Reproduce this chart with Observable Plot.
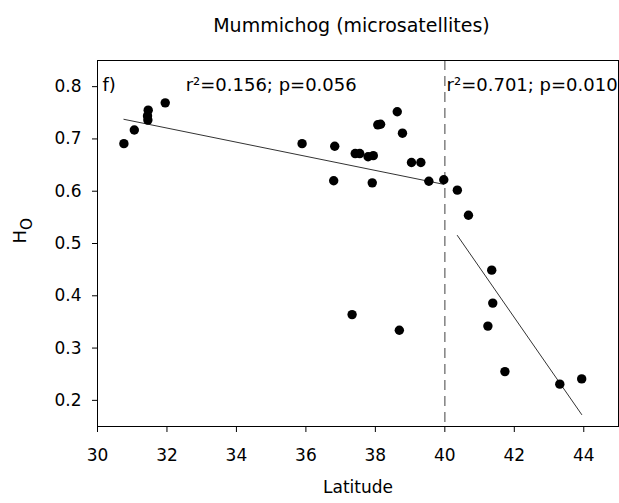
<!DOCTYPE html>
<html>
<head>
<meta charset="utf-8">
<script src="https://cdn.jsdelivr.net/npm/d3@7"></script>
<script src="https://cdn.jsdelivr.net/npm/@observablehq/plot@0.6"></script>
<style>
  html, body { margin: 0; padding: 0; background: #fff; }
  #title {
    box-sizing: border-box;
    width: 619px; height: 45px;
    padding: 14px 1px 0 85px;
    font-family: "DejaVu Sans", sans-serif;
    font-size: 19px; line-height: 22px;
    text-align: center; color: #000;
  }
</style>
</head>
<body>
<div id="title">Mummichog (microsatellites)</div>
<div id="chart"></div>
<script>
const latitude = [30.76, 31.06, 31.44, 31.45, 31.46, 31.95, 35.89, 36.80, 36.83, 37.33, 37.42, 37.55,
                  37.79, 37.91, 37.94, 38.07, 38.15, 38.63, 38.69, 38.78, 39.04, 39.31, 39.54, 39.97,
                  40.36, 40.68, 41.24, 41.35, 41.38, 41.73, 43.31, 43.94];
const ho       = [0.691, 0.717, 0.744, 0.736, 0.755, 0.769, 0.691, 0.620, 0.686, 0.364, 0.672, 0.672,
                  0.666, 0.616, 0.668, 0.727, 0.728, 0.752, 0.334, 0.711, 0.655, 0.655, 0.619, 0.622,
                  0.602, 0.554, 0.342, 0.449, 0.386, 0.255, 0.231, 0.241];
const breakLatitude = 40;
const xTicks = [30, 32, 34, 36, 38, 40, 42, 44];
const yTicks = [0.2, 0.3, 0.4, 0.5, 0.6, 0.7, 0.8];
const panelLabel = "f)";
const statsSouth = "r²=0.156; p=0.056";
const statsNorth = "r²=0.701; p=0.010";
const statsSouthLat = 35.0;
const statsNorthLat = 40.05;

const data = latitude.map((lat, i) => ({lat, ho: ho[i]}));

const plot = Plot.plot({
  width: 619,
  height: 458,
  marginTop: 15,
  marginLeft: 97,
  marginRight: 1,
  marginBottom: 77,
  style: {fontFamily: "DejaVu Sans, sans-serif", fontSize: "17px", color: "#000", background: "#fff"},
  x: {domain: [30, 45]},
  y: {domain: [0.15, 0.85]},
  marks: [
    Plot.ruleX([breakLatitude], {stroke: "#808080", strokeWidth: 1.5, strokeDasharray: "10,6"}),
    Plot.linearRegressionY(data, {x: "lat", y: "ho", filter: d => d.lat < breakLatitude, ci: 0, stroke: "#333", strokeWidth: 1}),
    Plot.linearRegressionY(data, {x: "lat", y: "ho", filter: d => d.lat >= breakLatitude, ci: 0, stroke: "#333", strokeWidth: 1}),
    Plot.dot(data, {x: "lat", y: "ho", r: 4.7, fill: "#000", stroke: null}),
    Plot.frame({stroke: "#000", strokeWidth: 1}),
    Plot.axisX({ticks: xTicks, tickSize: 6, tickPadding: 16, label: null, tickFormat: d3.format("d")}),
    Plot.axisY({ticks: yTicks, tickSize: 5, tickPadding: 11, label: null, tickFormat: d3.format(".1f")}),
    Plot.text([panelLabel], {frameAnchor: "top-left", dx: 5, dy: 18, textAnchor: "start", fontSize: 18, fill: "#000"}),
    Plot.text([statsSouth], {x: statsSouthLat, frameAnchor: "top", dy: 18, textAnchor: "middle", fontSize: 18, fill: "#000"}),
    Plot.text([statsNorth], {x: statsNorthLat, frameAnchor: "top", dy: 18, textAnchor: "start", fontSize: 18, fill: "#000"}),
    Plot.text(["Latitude"], {frameAnchor: "bottom", dy: 66, fontSize: 17, fill: "#000"}),
    Plot.text(["HO"], {frameAnchor: "left", dx: -77, rotate: -90, fontSize: 18, fill: "#000", className: "ylab"})
  ]
});

document.getElementById("chart").appendChild(plot);

// Subscript "O" in the y-axis label
const lab = d3.select(plot).select("g.ylab text");
if (!lab.empty()) {
  lab.text(null);
  lab.append("tspan").text("H");
  lab.append("tspan").attr("dy", "0.35em").attr("font-size", "0.85em").text("O");
}
</script>
</body>
</html>
